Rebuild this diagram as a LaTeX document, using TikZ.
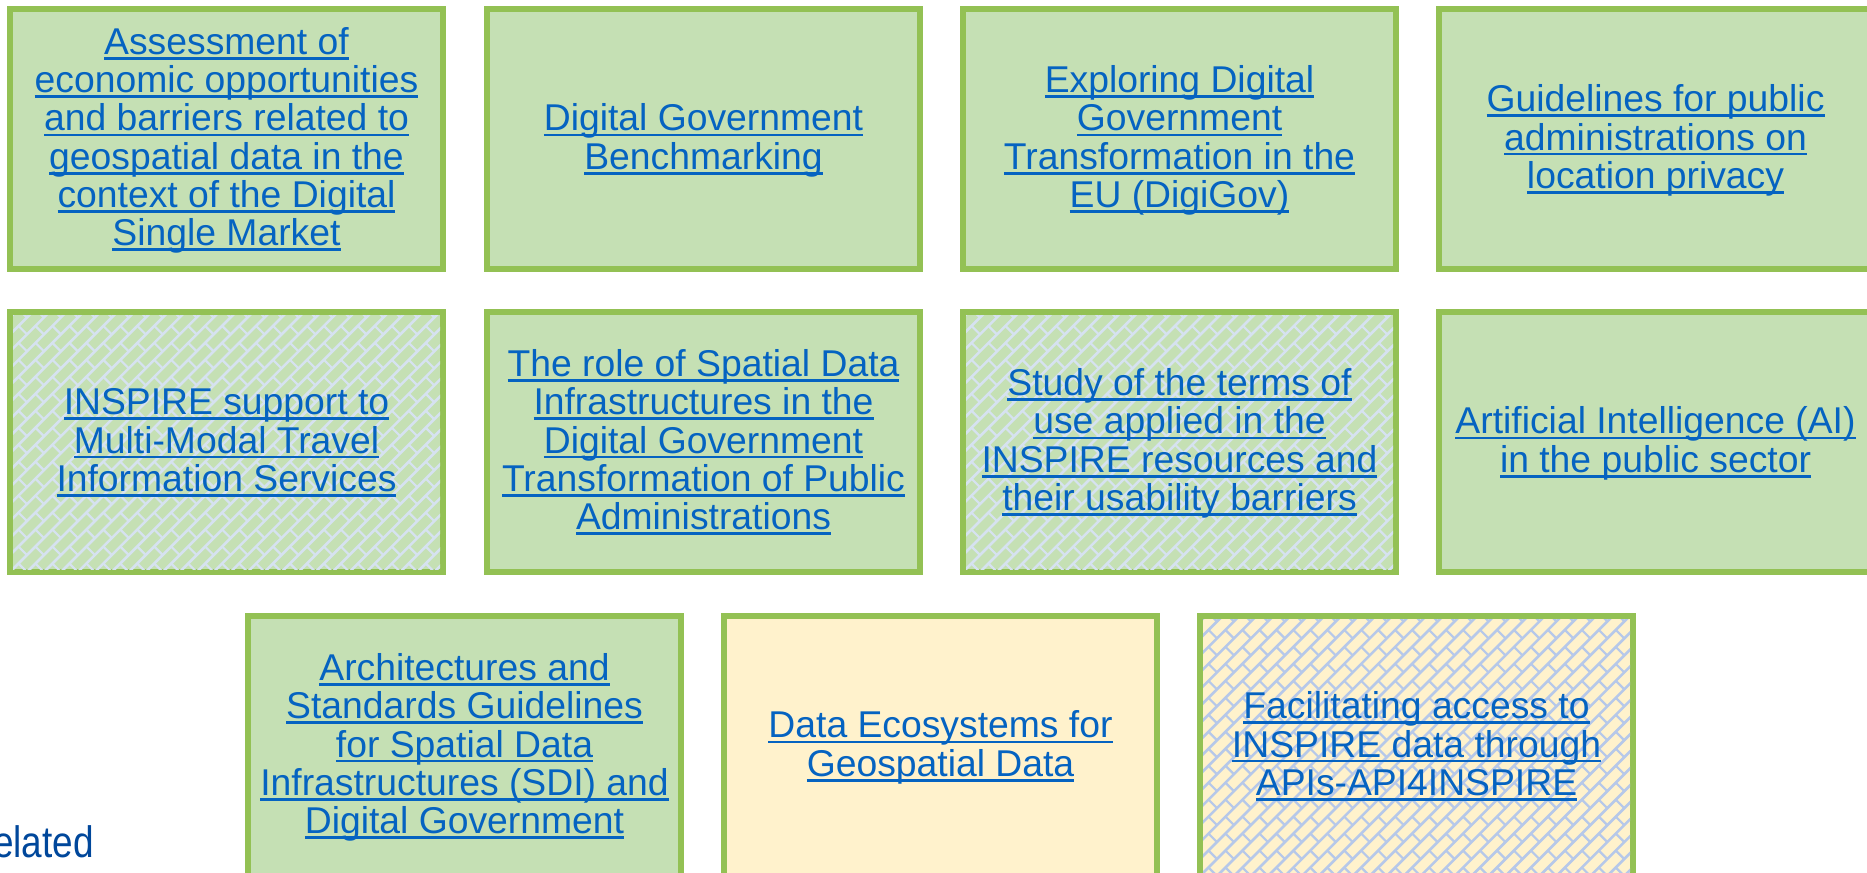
\documentclass[tikz,border=0pt]{standalone}
\usepackage{fontspec}
\setmainfont{Liberation Sans}
\newfontfamily\narrowsans[FakeStretch=0.84]{Liberation Sans}
\definecolor{boxgreen}{RGB}{197,224,180}
\definecolor{boxyellow}{RGB}{255,242,204}
\definecolor{bordergreen}{RGB}{147,193,84}
\definecolor{linkblue}{RGB}{5,99,193}
\definecolor{darkblue}{RGB}{0,71,155}
\definecolor{hatchpale}{RGB}{214,226,240}
\definecolor{hatchblue}{RGB}{182,200,233}
\newcommand\myul[1]{\setbox0\hbox{#1}\rlap{\rule[-5.4pt]{\wd0}{2.7pt}}\box0\rule[-8.15pt]{0pt}{38.3pt}}
\newcommand\hatchbox[2]{%
  \begin{scope}
    \clip ([xshift=3pt,yshift=-3pt]#1.north west) rectangle ([xshift=-3pt,yshift=3pt]#1.south east);
    \begin{scope}[shift={(#1.south west)}, x={(0.7071pt,0.7071pt)}, y={(0.7071pt,-0.7071pt)}]
      \foreach \k in {-17,...,28}
        \draw[#2, line width=2.6pt] (-20,12*\k) -- (520,12*\k);
      \foreach \j in {0,...,45}{%
        \pgfmathsetmacro\ph{12*mod(\j,2)}%
        \draw[#2, line width=2.2pt, dash pattern=on 12pt off 12pt, dash phase=\ph pt] (12*\j,-204) -- (12*\j,336);}
    \end{scope}
  \end{scope}}
\tikzset{
  topic/.style={draw=bordergreen, line width=6pt, fill=boxgreen, minimum width=433pt, minimum height=260pt,
    inner sep=0pt, outer sep=0pt, align=center, text=linkblue,
    font={\fontsize{37.3pt}{38.3pt}\selectfont}},
  yellowtopic/.style={topic, fill=boxyellow},
  label/.style={align=center, text=linkblue, inner sep=0pt, font={\fontsize{37.3pt}{38.3pt}\selectfont}}
}
\begin{document}
\begin{tikzpicture}[x=1pt,y=-1pt]
\useasboundingbox (0,0) rectangle (1867,872);
\clip (0,0) rectangle (1867,872);
% row 1
\node[topic] (a1) at (226.5,139) {\myul{Assessment of}\\\myul{economic opportunities}\\\myul{and barriers related to}\\\myul{geospatial data in the}\\\myul{context of the Digital}\\\myul{Single Market}};
\node[topic] (a2) at (703.5,139) {\myul{Digital Government}\\\myul{Benchmarking}};
\node[topic] (a3) at (1179.5,139) {\myul{Exploring Digital}\\\myul{Government}\\\myul{Transformation in the}\\\myul{EU (DigiGov)}};
\node[topic] (a4) at (1655.5,139) {\myul{Guidelines for public}\\\myul{administrations on}\\\myul{location privacy}};
% row 2
\node[topic] (b1) at (226.5,442) {};
\hatchbox{b1}{hatchpale}
\node[label] (b1t) at (b1.center) {\myul{INSPIRE support to}\\\myul{Multi-Modal Travel}\\\myul{Information Services}};
\node[topic] (b2) at (703.5,442) {\myul{The role of Spatial Data}\\\myul{Infrastructures in the}\\\myul{Digital Government}\\\myul{Transformation of Public}\\\myul{Administrations}};
\node[topic] (b3) at (1179.5,442) {};
\hatchbox{b3}{hatchpale}
\node[label] (b3t) at (b3.center) {\myul{Study of the terms of}\\\myul{use applied in the}\\\myul{INSPIRE resources and}\\\myul{their usability barriers}};
\node[topic] (b4) at (1655.5,442) {\myul{Artificial Intelligence (AI)}\\\myul{in the public sector}};
% row 3
\node[topic] (c1) at (464.5,746) {\myul{Architectures and}\\\myul{Standards Guidelines}\\\myul{for Spatial Data}\\\myul{Infrastructures (SDI) and}\\\myul{Digital Government}};
\node[yellowtopic] (c2) at (940.5,746) {\myul{Data Ecosystems for}\\\myul{Geospatial Data}};
\node[yellowtopic] (c3) at (1416.5,746) {};
\hatchbox{c3}{hatchblue}
\node[label] (c3t) at (c3.center) {\myul{Facilitating access to}\\\myul{INSPIRE data through}\\\myul{APIs-API4INSPIRE}};
% cut-off label
\node[anchor=base west, inner sep=0pt, text=darkblue, font={\narrowsans\fontsize{44pt}{48pt}\selectfont}] (rel) at (-7,857) {elated};
\end{tikzpicture}
\end{document}
